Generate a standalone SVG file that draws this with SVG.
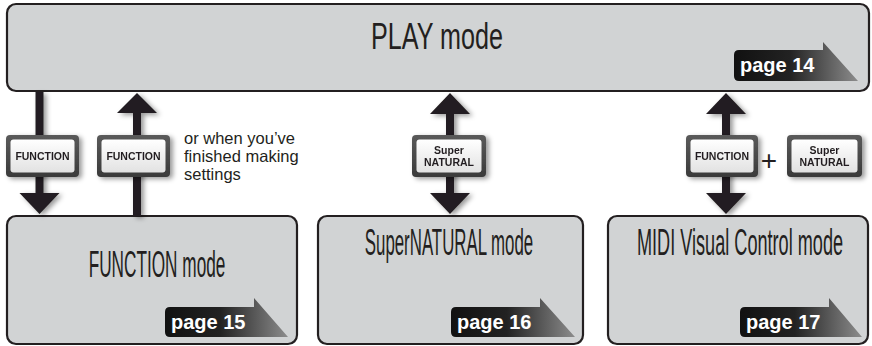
<svg xmlns="http://www.w3.org/2000/svg" width="872" height="346" viewBox="0 0 872 346">
<style>
.box{fill:#d1d3d4;stroke:#231f20;stroke-width:2.2}
.mode{font-family:"Liberation Sans",Arial,sans-serif;font-size:37px;fill:#231f20;text-anchor:middle}
.pg{font-family:"Liberation Sans",Arial,sans-serif;font-size:20px;font-weight:bold;fill:#fff}
.btn{font-family:"Liberation Sans",Arial,sans-serif;font-size:10.5px;font-weight:bold;fill:#231f20;text-anchor:middle}
.note{font-family:"Liberation Sans",Arial,sans-serif;font-size:16.5px;fill:#231f20}
.arr{fill:#231f20}
</style>
<defs>
<linearGradient id="tag" x1="0" y1="0" x2="1" y2="0">
<stop offset="0" stop-color="#111"/>
<stop offset="0.45" stop-color="#222"/>
<stop offset="1" stop-color="#8c8c8c"/>
</linearGradient>
<linearGradient id="frame" x1="0" y1="0" x2="0" y2="1">
<stop offset="0" stop-color="#5a5a5a"/>
<stop offset="1" stop-color="#3a3a3a"/>
</linearGradient>
<linearGradient id="face" x1="0" y1="0" x2="0" y2="1">
<stop offset="0" stop-color="#ffffff"/>
<stop offset="1" stop-color="#e2e2e2"/>
</linearGradient>
<filter id="sh" x="-30%" y="-30%" width="160%" height="160%">
<feDropShadow dx="3" dy="2" stdDeviation="2.5" flood-color="#000" flood-opacity="0.4"/>
</filter>
</defs>

<g id="play">
<rect class="box" x="7" y="4" width="862" height="87" rx="9"/>
<text class="mode" transform="translate(437,49) scale(0.68,1)">PLAY mode</text>
<path d="M739,50 H823 V42 L858,81 H739 Q734,81 734,76 V55 Q734,50 739,50 Z" fill="url(#tag)"/>
<text class="pg" x="740" y="72">page 14</text>
</g>

<g id="function-mode">
<rect class="box" x="7" y="216" width="290" height="128" rx="9"/>
<text class="mode" transform="translate(157,277) scale(0.465,1)">FUNCTION mode</text>
<path d="M170,307 H254 V298 L288,337 H170 Q165,337 165,332 V312 Q165,307 170,307 Z" fill="url(#tag)"/>
<text class="pg" x="171" y="329">page 15</text>
</g>

<g id="supernatural-mode">
<rect class="box" x="318" y="216" width="265" height="128" rx="9"/>
<text class="mode" transform="translate(449,255) scale(0.455,1)">SuperNATURAL mode</text>
<path d="M456,307 H540 V298 L575,337 H456 Q451,337 451,332 V312 Q451,307 456,307 Z" fill="url(#tag)"/>
<text class="pg" x="457" y="329">page 16</text>
</g>

<g id="midi-mode">
<rect class="box" x="608" y="216" width="260" height="128" rx="9"/>
<text class="mode" transform="translate(740,255) scale(0.49,1)">MIDI Visual Control mode</text>
<path d="M745,307 H829 V298 L862,337 H745 Q740,337 740,332 V312 Q740,307 745,307 Z" fill="url(#tag)"/>
<text class="pg" x="746" y="329">page 17</text>
</g>

<g id="connectors" filter="url(#sh)">
<path class="arr" d="M35.5,92 H43.5 V193 H59.5 L39.5,214 L19.5,193 H35.5 Z"/>
<path class="arr" d="M137,93 L157,113 H141 V216 H133 V113 H117 Z"/>
<path class="arr" d="M450,93 L470,114 H454 V193 H470 L450,214 L430,193 H446 V114 H430 Z"/>
<path class="arr" d="M726,93 L746,114 H730 V193 H746 L726,214 L706,193 H722 V114 H706 Z"/>
</g>

<g id="btn-function-1" filter="url(#sh)">
<rect x="6" y="135" width="73" height="42" rx="4" fill="url(#frame)"/>
<rect x="10.5" y="139.5" width="64" height="33" rx="3" fill="url(#face)"/>
<text class="btn" x="42.5" y="160">FUNCTION</text>
</g>

<g id="btn-function-2" filter="url(#sh)">
<rect x="97" y="135" width="73" height="42" rx="4" fill="url(#frame)"/>
<rect x="101.5" y="139.5" width="64" height="33" rx="3" fill="url(#face)"/>
<text class="btn" x="133.5" y="160">FUNCTION</text>
</g>

<g id="note">
<text class="note" x="184" y="144">or when you’ve</text>
<text class="note" x="184" y="162">finished making</text>
<text class="note" x="184" y="180">settings</text>
</g>

<g id="btn-supernatural-1" filter="url(#sh)">
<rect x="412" y="135" width="74" height="42" rx="4" fill="url(#frame)"/>
<rect x="416.5" y="139.5" width="65" height="33" rx="3" fill="url(#face)"/>
<text class="btn" x="449" y="154">Super</text>
<text class="btn" x="449" y="166">NATURAL</text>
</g>

<g id="btn-function-3" filter="url(#sh)">
<rect x="686" y="135" width="72" height="42" rx="4" fill="url(#frame)"/>
<rect x="690.5" y="139.5" width="63" height="33" rx="3" fill="url(#face)"/>
<text class="btn" x="722" y="160">FUNCTION</text>
</g>

<g id="plus">
<text x="769" y="170" font-family="Liberation Sans, Arial, sans-serif" font-size="28" fill="#231f20" text-anchor="middle">+</text>
</g>

<g id="btn-supernatural-2" filter="url(#sh)">
<rect x="787" y="135" width="75" height="42" rx="4" fill="url(#frame)"/>
<rect x="791.5" y="139.5" width="66" height="33" rx="3" fill="url(#face)"/>
<text class="btn" x="824.5" y="154">Super</text>
<text class="btn" x="824.5" y="166">NATURAL</text>
</g>
</svg>
